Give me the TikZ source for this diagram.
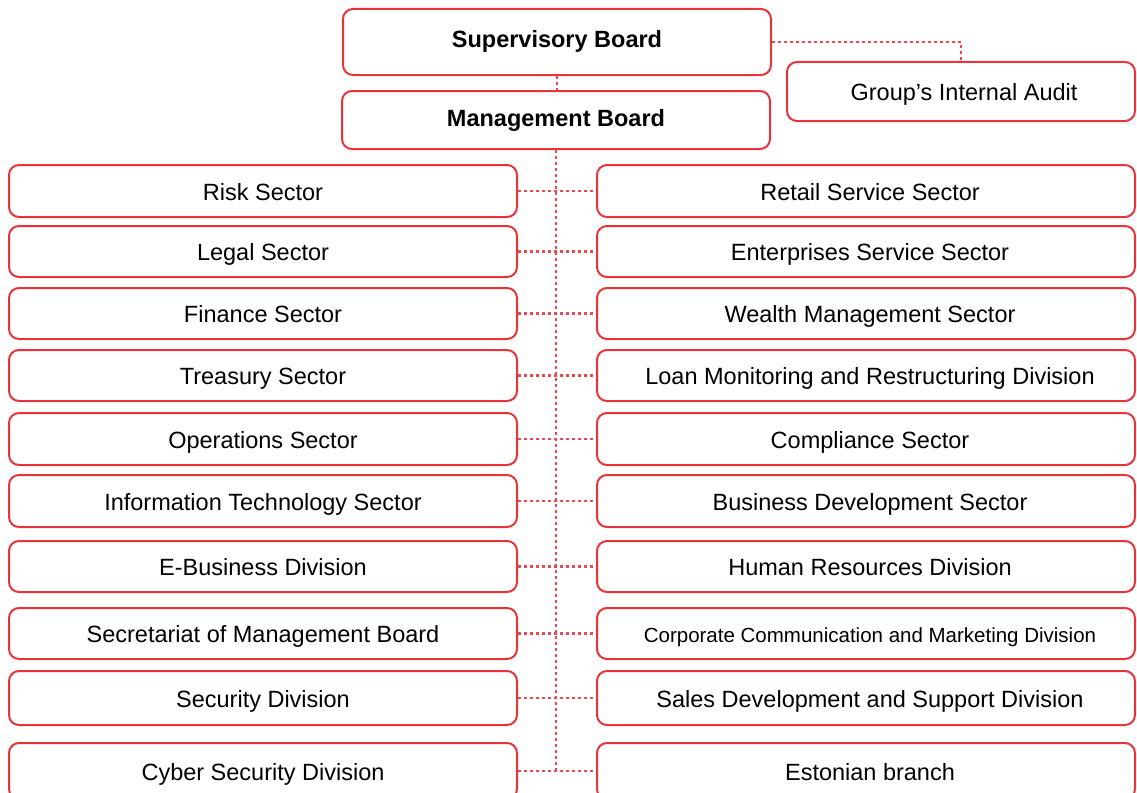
\documentclass[tikz,border=0pt]{standalone}
\usepackage{fontspec}
\setmainfont{Liberation Sans}
\definecolor{boxred}{RGB}{232,52,56}
\definecolor{linered}{RGB}{238,72,76}
\begin{document}
\begin{tikzpicture}[x=1pt,y=-1pt,
  box/.style={draw=boxred, line width=2pt, rounded corners=10pt, inner sep=0pt, fill=white, text=black, text height=20pt, text depth=2pt, font=\fontsize{23.5}{28}\selectfont},
  topbox/.style={box, minimum width=428pt, text height=17pt, text depth=5pt},
  lbox/.style={box, minimum width=508pt},
  rbox/.style={box, minimum width=538pt},
  conn/.style={draw=linered, line width=2.8pt, dash pattern=on 2.8pt off 3.2pt}]
\useasboundingbox (0,0) rectangle (1137,792);
\clip (0,0) rectangle (1137,792);

\node[topbox, minimum height=66pt] (sb) at (557,42) {\textbf{Supervisory Board}};
\node[topbox, minimum height=58pt] (mb) at (556,120) {\textbf{Management Board}};
\node[box, minimum width=348pt, minimum height=59pt] (ia) at (961,91.5) {\hspace*{6pt}Group’s Internal Audit};

\foreach \i/\y/\h/\lt/\rt in {
  1/191/52/Risk Sector/Retail Service Sector,
  2/251.5/51/Legal Sector/Enterprises Service Sector,
  3/313.5/51/Finance Sector/Wealth Management Sector,
  4/375.5/51/Treasury Sector/Loan Monitoring and Restructuring Division,
  5/439/52/Operations Sector/Compliance Sector,
  6/501/52/Information Technology Sector/Business Development Sector,
  7/566.5/51/E-Business Division/Human Resources Division,
  8/633.5/51/Secretariat of Management Board/{\fontsize{20.5}{24}\selectfont Corporate Communication and Marketing Division},
  9/698/54/Security Division/Sales Development and Support Division,
  10/771/56/Cyber Security Division/Estonian branch}{
  \node[lbox, minimum height=\h pt] (L\i) at (263,\y) {\lt};
  \node[rbox, minimum height=\h pt] (R\i) at (866,\y) {\hspace*{8pt}\rt};
}

\coordinate (bot) at (556,771);
\draw[conn] (sb.south) -- (sb.south |- mb.north);
\draw[conn] (sb.east) -| (ia.north);
\draw[conn] (mb.south) -- (bot);
\foreach \i in {1,...,10}{
  \draw[conn] (L\i.east) -- (R\i.west);
}
\end{tikzpicture}
\end{document}
